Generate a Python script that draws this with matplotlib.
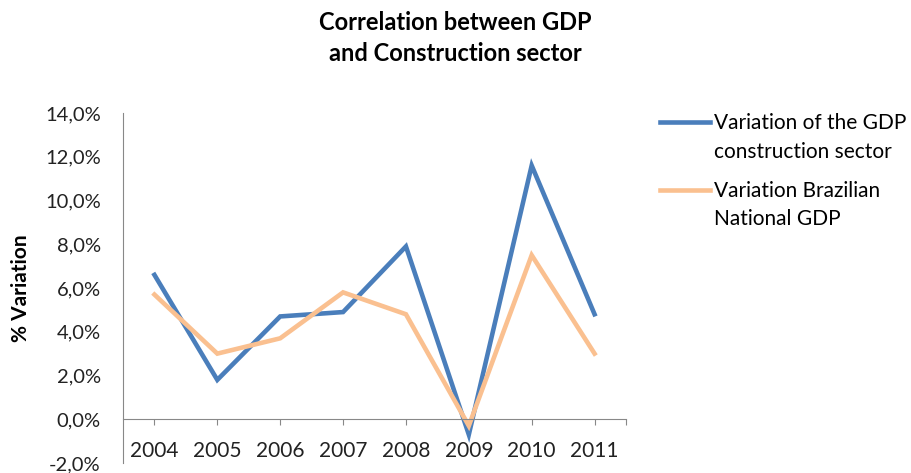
import matplotlib
matplotlib.use("Agg")
import matplotlib.pyplot as plt
from matplotlib.ticker import FuncFormatter

years = ["2004", "2005", "2006", "2007", "2008", "2009", "2010", "2011"]
construction_gdp = [6.6, 1.8, 4.7, 4.9, 7.9, -0.7, 11.6, 4.8]
national_gdp = [5.7, 3.0, 3.7, 5.8, 4.8, -0.3, 7.5, 3.0]
series_labels = ["Variation of the GDP\nconstruction sector", "Variation Brazilian\nNational GDP"]
title = "Correlation between GDP\nand Construction sector"
ylabel = "% Variation"

plt.rcParams['font.family'] = ['Lato', 'DejaVu Sans']

fig = plt.figure(figsize=(9.11, 4.73), dpi=100)
ax = fig.add_axes([123/911, 1-463/473, (626-123)/911, (463-113)/473])

x = list(range(len(years)))
ax.plot(x, construction_gdp, color="#4A7EBB", lw=3.3, solid_joinstyle="miter", label=series_labels[0])
ax.plot(x, national_gdp, color="#FAC090", lw=3.3, solid_joinstyle="miter", label=series_labels[1])

ax.set_xlim(-0.5, 7.5)
ax.set_ylim(-2, 14)
ax.set_yticks(range(-2, 15, 2))
ax.yaxis.set_major_formatter(FuncFormatter(lambda v, p: f"{v:.1f}%".replace(".", ",")))
ax.set_xticks(x + [7.5])
ax.set_xticklabels(years + [""])

for s in ["top", "right"]:
    ax.spines[s].set_visible(False)
ax.spines["bottom"].set_position(("data", 0))
ax.spines["left"].set_color("#888888")
ax.spines["bottom"].set_color("#888888")
ax.tick_params(axis="y", length=0, pad=16, labelsize=14.5, labelcolor="#222222")
ax.tick_params(axis="x", length=4, direction="out", color="#888888", pad=12, labelsize=15, labelcolor="#222222")

ax.set_ylabel(ylabel, fontsize=15, fontweight="bold")
ax.yaxis.set_label_coords(-0.183, 0.5)

fig.text(0.5, 1-38/473, title, ha="center", va="center", fontsize=17, fontweight="bold", linespacing=1.4)

leg = ax.legend(loc="upper left", bbox_to_anchor=(660/911, 1-113/473), bbox_transform=fig.transFigure,
                frameon=False, fontsize=15, handlelength=2.4, handletextpad=0.2, labelspacing=0.9,
                borderaxespad=0, borderpad=0)
for t in leg.get_texts():
    t.set_linespacing(1.55)
fig.canvas.draw()
for h in leg.legend_handles:
    h.set_ydata([v + 11.5 for v in h.get_ydata()])

fig.savefig("out.png", dpi=100)
